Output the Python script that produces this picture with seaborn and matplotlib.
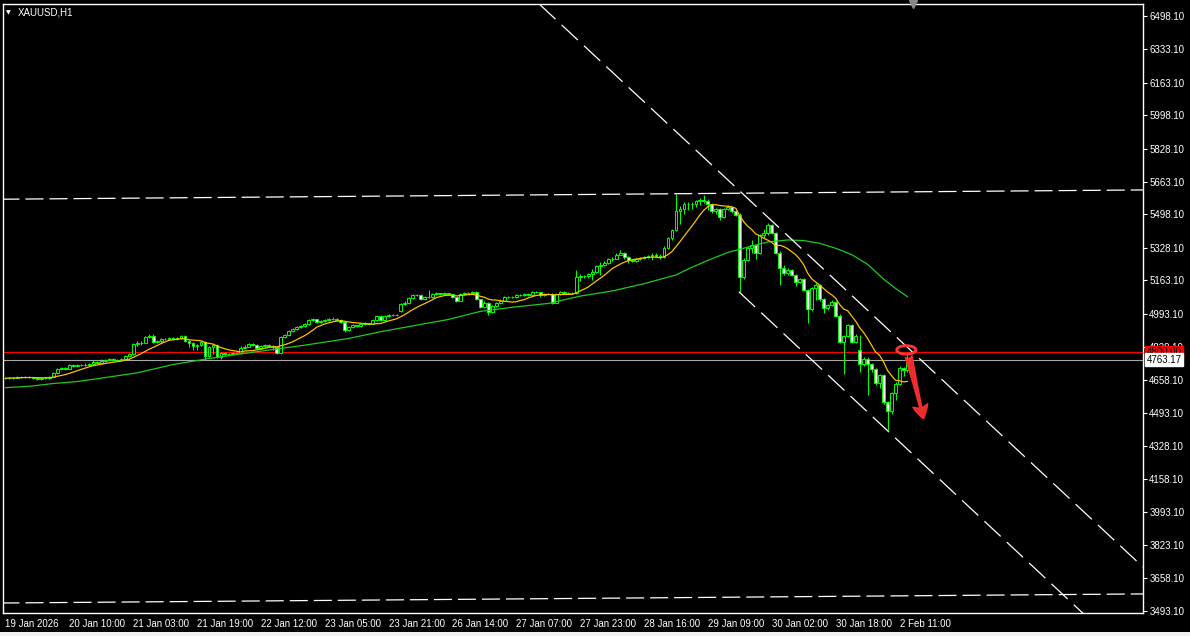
import numpy as np
import pandas as pd
import seaborn as sns
import matplotlib
matplotlib.use('Agg')
import matplotlib.pyplot as plt
from matplotlib.patches import Ellipse, FancyArrowPatch, Rectangle

sns.set_style('dark')
plt.rcParams['font.family'] = ['Liberation Sans', 'DejaVu Sans']
plt.rcParams['lines.scale_dashes'] = False

# XAUUSD H1, bar 0 = first visible bar (19 Jan 2026)
closes = [4668, 4672, 4670, 4673, 4675, 4676, 4673, 4670, 4665, 4668,
          4670, 4677, 4695, 4716, 4720, 4717, 4735, 4733, 4737, 4734,
          4738, 4742, 4750, 4748, 4757, 4763, 4766, 4762, 4763, 4764,
          4783, 4790, 4842, 4846, 4849, 4876, 4880, 4850, 4858, 4866,
          4868, 4872, 4868, 4871, 4882, 4855, 4845, 4831, 4838, 4852,
          4780, 4828, 4835, 4777, 4797, 4793, 4790, 4795, 4797, 4824,
          4829, 4840, 4838, 4821, 4830, 4838, 4834, 4826, 4795, 4876,
          4886, 4909, 4919, 4926, 4932, 4942, 4963, 4966, 4953, 4959,
          4963, 4966, 4970, 4961, 4955, 4912, 4929, 4936, 4934, 4942,
          4946, 4945, 4963, 4983, 4963, 4983, 4990, 4987, 4990, 5044,
          5051, 5074, 5088, 5090, 5071, 5078, 5080, 5094, 5098, 5096,
          5099, 5094, 5078, 5061, 5094, 5101, 5100, 5105, 5067, 5030,
          5051, 5003, 5035, 5051, 5061, 5078, 5081, 5080, 5088, 5091,
          5094, 5091, 5105, 5104, 5088, 5094, 5095, 5051, 5094, 5105,
          5098, 5099, 5101, 5182, 5187, 5184, 5196, 5207, 5236, 5242,
          5250, 5270, 5274, 5294, 5304, 5280, 5267, 5262, 5270, 5276,
          5282, 5285, 5292, 5288, 5280, 5328, 5376, 5419, 5517, 5527,
          5550, 5551, 5548, 5564, 5569, 5567, 5551, 5512, 5523, 5486,
          5527, 5537, 5513, 5496, 5182, 5267, 5326, 5343, 5304, 5393,
          5402, 5444, 5405, 5304, 5224, 5199, 5216, 5191, 5157, 5170,
          5115, 5017, 5123, 5140, 5068, 5022, 5040, 5054, 4986, 4853,
          4882, 4937, 4853, 4882, 4743, 4768, 4740, 4713, 4645, 4684,
          4549, 4503, 4594, 4642, 4723, 4710, 4763]

highs = [4676, 4675, 4676, 4678, 4679, 4680, 4679, 4675, 4672, 4672,
         4674, 4681, 4700, 4720, 4725, 4724, 4739, 4741, 4742, 4741,
         4744, 4748, 4760, 4756, 4765, 4768, 4772, 4769, 4768, 4769,
         4788, 4796, 4848, 4856, 4858, 4880, 4892, 4892, 4862, 4872,
         4874, 4878, 4875, 4877, 4889, 4887, 4860, 4850, 4842, 4857,
         4858, 4833, 4840, 4842, 4803, 4800, 4798, 4800, 4802, 4830,
         4836, 4846, 4845, 4843, 4836, 4844, 4842, 4838, 4830, 4882,
         4892, 4915, 4924, 4931, 4937, 4950, 4970, 4973, 4970, 4965,
         4969, 4972, 4976, 4974, 4966, 4960, 4934, 4942, 4940, 4948,
         4952, 4950, 4968, 4990, 4988, 4990, 4996, 4994, 4996, 5050,
         5058, 5080, 5095, 5096, 5094, 5084, 5115, 5100, 5104, 5102,
         5104, 5102, 5097, 5082, 5099, 5107, 5106, 5112, 5110, 5071,
         5057, 5055, 5040, 5056, 5067, 5084, 5087, 5086, 5094, 5097,
         5100, 5098, 5111, 5110, 5107, 5100, 5101, 5099, 5100, 5112,
         5108, 5105, 5107, 5215, 5194, 5192, 5203, 5222, 5242, 5255,
         5262, 5276, 5282, 5300, 5315, 5308, 5285, 5272, 5276, 5282,
         5288, 5292, 5300, 5302, 5296, 5335, 5382, 5425, 5601, 5540,
         5558, 5560, 5562, 5572, 5578, 5596, 5575, 5556, 5530, 5528,
         5532, 5545, 5542, 5520, 5502, 5275, 5335, 5368, 5348, 5400,
         5425, 5452, 5450, 5410, 5310, 5240, 5225, 5222, 5196, 5178,
         5175, 5120, 5130, 5150, 5146, 5074, 5046, 5062, 5060, 4992,
         4888, 4944, 4942, 4890, 4885, 4776, 4775, 4748, 4720, 4690,
         4690, 4556, 4600, 4650, 4730, 4728, 4790]

lows = [4664, 4665, 4667, 4668, 4670, 4672, 4670, 4666, 4660, 4662,
        4664, 4667, 4674, 4692, 4712, 4712, 4714, 4728, 4729, 4729,
        4730, 4735, 4739, 4741, 4745, 4752, 4760, 4757, 4758, 4760,
        4761, 4779, 4786, 4830, 4836, 4845, 4872, 4845, 4846, 4845,
        4860, 4863, 4862, 4864, 4866, 4851, 4826, 4814, 4814, 4834,
        4760, 4776, 4790, 4770, 4765, 4786, 4784, 4786, 4790, 4792,
        4820, 4826, 4833, 4816, 4817, 4826, 4829, 4812, 4790, 4791,
        4872, 4883, 4905, 4915, 4922, 4928, 4938, 4958, 4946, 4948,
        4954, 4958, 4962, 4956, 4950, 4905, 4908, 4924, 4928, 4930,
        4938, 4940, 4941, 4958, 4956, 4959, 4979, 4982, 4983, 5005,
        5038, 5046, 5070, 5083, 5066, 5066, 5074, 5076, 5090, 5091,
        5092, 5089, 5072, 5055, 5058, 5090, 5095, 5096, 5062, 5025,
        5026, 4990, 4998, 5030, 5046, 5057, 5073, 5074, 5076, 5084,
        5087, 5086, 5088, 5098, 5082, 5084, 5089, 5045, 5047, 5090,
        5093, 5094, 5095, 5097, 5160, 5176, 5178, 5168, 5200, 5190,
        5236, 5246, 5264, 5270, 5290, 5274, 5250, 5255, 5257, 5265,
        5270, 5278, 5268, 5282, 5272, 5276, 5322, 5370, 5415, 5447,
        5500, 5520, 5525, 5535, 5545, 5555, 5520, 5505, 5500, 5470,
        5480, 5520, 5505, 5490, 5106, 5170, 5260, 5300, 5270, 5298,
        5380, 5395, 5398, 5296, 5140, 5190, 5192, 5185, 5136, 5150,
        5108, 4946, 5010, 5064, 5060, 5000, 5016, 5034, 4978, 4846,
        4689, 4876, 4845, 4848, 4701, 4730, 4585, 4700, 4635, 4620,
        4540, 4405, 4490, 4560, 4635, 4680, 4700]

first_open = 4672
gap_opens = {99: 5010, 214: 4811}   # monday gaps

# slow moving average
slow_ma_bar = [0, 6, 12, 18, 25, 33, 42, 50, 58, 67, 75, 86, 94, 103, 111, 119, 128, 136,
               144, 152, 160, 168, 172, 176, 181, 186, 191, 196, 200, 204, 208, 212, 216,
               220, 223, 226]
slow_ma_val = [4621, 4628, 4642, 4652, 4672, 4696, 4738, 4765, 4789, 4814, 4836, 4870, 4904,
               4937, 4966, 5007, 5030, 5047, 5084, 5110, 5147, 5191, 5230, 5265, 5305, 5332,
               5358, 5368, 5365, 5351, 5326, 5294, 5245, 5170, 5123, 5081]

price_ticks = [6498.10, 6333.10, 6163.10, 5998.10, 5828.10, 5663.10, 5498.10, 5328.10,
               5163.10, 4993.10, 4828.10, 4658.10, 4493.10, 4328.10, 4158.10, 3993.10,
               3823.10, 3658.10, 3493.10]
time_labels = ['19 Jan 2026', '20 Jan 10:00', '21 Jan 03:00', '21 Jan 19:00', '22 Jan 12:00',
               '23 Jan 05:00', '23 Jan 21:00', '26 Jan 14:00', '27 Jan 07:00', '27 Jan 23:00',
               '28 Jan 16:00', '29 Jan 09:00', '30 Jan 02:00', '30 Jan 18:00', '2 Feb 11:00']
label_step = 16

# drawn objects (bar index, price)
top_rail = ([-1, 285], [5574, 5621])
bottom_rail = ([-1, 285], [3532, 3578])
upper_chan = ([133.75, 285], [6561, 3714])
lower_chan = ([183.75, 290], [5106, 3102])
alert_level = 4800.00
last_price = 4763.17
circle_at = (225.7, 4812)
arrow_from = (226.3, 4778)
arrow_to = (230.0, 4463)
shift_mark = 227.5

# ---- build frame
df = pd.DataFrame({'c': closes, 'h': highs, 'l': lows})
df['bar'] = np.arange(len(df))
df['o'] = [first_open] + closes[:-1]
for k, v in gap_opens.items():
    df.loc[k, 'o'] = v
df['fast_ma'] = df['c'].rolling(10, min_periods=1).mean()
slow = pd.DataFrame({'bar': slow_ma_bar, 'ma': slow_ma_val})

W, H = 1190, 636
fig = plt.figure(figsize=(W / 100, H / 100), dpi=100, facecolor='black')
ax = fig.add_axes([3 / W, (H - 613) / H, (1143 - 3) / W, (613 - 4) / H])
ax.set_facecolor('black')
ax.grid(False)

green = '#00ff00'
ax.vlines(df['bar'], df['l'], df['h'], color=green, lw=0.75, zorder=3)
bull = df[df['c'] >= df['o']]
bear = df[df['c'] < df['o']]
ax.bar(bull['bar'], (bull['c'] - bull['o']).clip(lower=0.5), bottom=bull['o'], width=0.72,
       color='black', edgecolor=green, linewidth=0.7, zorder=4)
ax.bar(bear['bar'], bear['o'] - bear['c'], bottom=bear['c'], width=0.72,
       color='white', edgecolor=green, linewidth=0.7, zorder=4)

sns.lineplot(data=slow, x='bar', y='ma', color='#20c820', lw=0.9, ax=ax, zorder=5)
sns.lineplot(data=df, x='bar', y='fast_ma', color='#ffc000', lw=0.9, ax=ax, zorder=6)

# lines
ax.axhline(alert_level, color='#ff0000', lw=0.8, zorder=2)
ax.axhline(last_price, color='#a8a8a8', lw=0.8, zorder=2)
for xs, ys in (top_rail, bottom_rail):
    ax.plot(xs, ys, color='white', lw=0.9, dashes=(13, 4.3), zorder=7)
for xs, ys in (upper_chan, lower_chan):
    ax.plot(xs, ys, color='white', lw=0.9, dashes=(16, 6), zorder=7)

ax.add_patch(Ellipse(circle_at, width=4.8, height=43, fill=False,
                     edgecolor='#ff3535', lw=2.0, zorder=8))
ax.add_patch(FancyArrowPatch(arrow_from, arrow_to,
                             arrowstyle='fancy,head_length=1.0,head_width=1.1,tail_width=0.5',
                             mutation_scale=10, color='#ff3030', alpha=0.92,
                             shrinkA=0, shrinkB=0, zorder=8))

ax.set_xlim(-0.6, 285)
ax.set_ylim(3481.5, 6561.3)
ax.plot([shift_mark], [6561.3], marker='v', color='#8a8a8a', markersize=6,
        clip_on=False, zorder=9)

# axes look
for s in ax.spines.values():
    s.set_color('white')
    s.set_linewidth(1)
ax.yaxis.tick_right()
ax.set_yticks(price_ticks)
ax.set_yticklabels(['%.2f' % p for p in price_ticks])
ax.set_xticks(range(0, label_step * len(time_labels), label_step))
ax.set_xticklabels(time_labels)
for lbl in ax.get_xticklabels():
    lbl.set_ha('left')
ax.tick_params(axis='both', colors='white', labelcolor='white', length=3, width=0.8,
               labelsize=7, pad=1.5, direction='out')
ax.tick_params(axis='y', right=True, left=False)
ax.set_xlabel('')
ax.set_ylabel('')

# price tags on the scale
ax.annotate('%.2f' % alert_level, xy=(1, alert_level), xycoords=('axes fraction', 'data'),
            xytext=(2.5, 0), textcoords='offset points', ha='left', va='center',
            fontsize=7, color='black', annotation_clip=False, zorder=10,
            bbox=dict(boxstyle='square,pad=0.12', fc='#ff0000', ec='#ff0000'))
ax.annotate('%.2f' % last_price, xy=(1, last_price), xycoords=('axes fraction', 'data'),
            xytext=(2.5, 0), textcoords='offset points', ha='left', va='center',
            fontsize=7, color='black', annotation_clip=False, zorder=10,
            bbox=dict(boxstyle='square,pad=0.12', fc='white', ec='white'))

# symbol caption
fig.text(6 / W, 1 - 12.5 / H, '\u25BC', fontsize=4.5, color='white', va='center',
         family='DejaVu Sans')
fig.text(18 / W, 1 - 12.5 / H, 'XAUUSD,H1', fontsize=7, color='white', va='center')

fig.patches.append(Rectangle((0, 0), 1, 4 / H, transform=fig.transFigure,
                             facecolor='#f0f0f0', edgecolor='none'))

fig.savefig('out.png', dpi=100, facecolor='black')
